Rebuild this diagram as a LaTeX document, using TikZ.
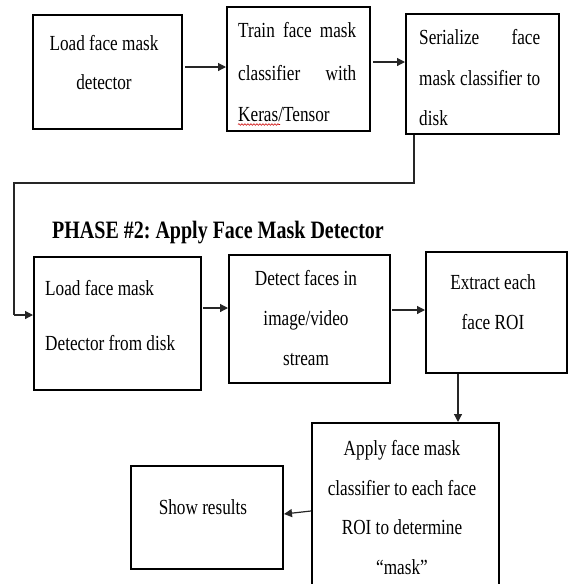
\documentclass[tikz,border=0pt]{standalone}
\usepackage{fontspec}
\setmainfont{Liberation Serif}[FakeStretch=0.8]
\usetikzlibrary{arrows.meta,decorations.pathmorphing}
\frenchspacing

\tikzset{
  box/.style={draw=black, line width=2pt, fill=none, inner sep=0pt},
  txt/.style={inner sep=0pt, font=\fontsize{21.5}{26}\selectfont},
  heading/.style={inner sep=0pt, font=\fontsize{25}{30}\selectfont\bfseries},
  link/.style={draw=black!85, line width=1.2pt, -{Triangle[length=8pt,width=8pt]}},
  plain/.style={draw=black!85, line width=1.2pt},
  squiggle/.style={draw=red!80!black, line width=0.6pt,
    decorate, decoration={snake, segment length=3pt, amplitude=0.8pt}}
}

\begin{document}
\begin{tikzpicture}[x=1pt, y=-1pt]
  \useasboundingbox (0,0) rectangle (569,584);
  \clip (0,0) rectangle (569,584);

  % ---- phase 1 boxes ----
  \node[box, minimum width=149pt, minimum height=114pt] (b1) at (107.5,72) {};
  \node[box, minimum width=143pt, minimum height=124pt] (b2) at (298.5,69) {};
  \node[box, minimum width=153pt, minimum height=120pt] (b3) at (482.5,74) {};

  \node[txt, anchor=base] (t1a) at (104,50) {Load face mask};
  \node[txt, anchor=base] (t1b) at (104,89) {detector};

  \node[txt, anchor=base west] (t2a) at (238,37) {\makebox[118pt][s]{Train face mask}};
  \node[txt, anchor=base west] (t2b) at (238,80) {\makebox[118pt][s]{classifier with}};
  \node[txt, anchor=base west] (t2c) at (238,121) {Keras/Tensor};
  \path[squiggle] (t2c.base west) ++(0,3.5) -- ++(42,0);

  \node[txt, anchor=base west] (t3a) at (419,44) {\makebox[121pt][s]{Serialize face}};
  \node[txt, anchor=base west] (t3b) at (419,85) {\makebox[121pt][s]{mask classifier to}};
  \node[txt, anchor=base west] (t3c) at (419,125) {disk};

  % ---- heading ----
  \node[heading, anchor=base west] (ttl) at (52,238) {PHASE \#2: Apply Face Mask Detector};

  % ---- phase 2 boxes ----
  \node[box, minimum width=167pt, minimum height=133pt] (b4) at (117.5,323.5) {};
  \node[box, minimum width=161pt, minimum height=128pt] (b5) at (309.5,319) {};
  \node[box, minimum width=141pt, minimum height=121pt] (b6) at (496.5,312.5) {};
  \node[box, minimum width=187pt, minimum height=165pt] (b7) at (405.5,505.5) {};
  \node[box, minimum width=152pt, minimum height=103pt] (b8) at (207,517.5) {};

  \node[txt, anchor=base west] (t4a) at (45,295) {Load face mask};
  \node[txt, anchor=base west] (t4b) at (45,350) {Detector from disk};

  \node[txt, anchor=base] (t5a) at (306,285) {Detect faces in};
  \node[txt, anchor=base] (t5b) at (306,325) {image/video};
  \node[txt, anchor=base] (t5c) at (306,365) {stream};

  \node[txt, anchor=base] (t6a) at (493,289) {Extract each};
  \node[txt, anchor=base] (t6b) at (493,329) {face ROI};

  \node[txt, anchor=base] (t7a) at (402,455) {Apply face mask};
  \node[txt, anchor=base] (t7b) at (402,495) {classifier to each face};
  \node[txt, anchor=base] (t7c) at (402,534) {ROI to determine};
  \node[txt, anchor=base] (t7d) at (402,574) {“mask”};

  \node[txt, anchor=base] (t8a) at (203,514) {Show results};

  % ---- connectors ----
  \coordinate (r1) at (0,67);
  \coordinate (r2) at (0,62);
  \draw[link] ([xshift=2pt]b1.east |- r1) -- (b2.west |- r1);
  \draw[link] ([xshift=2pt]b2.east |- r2) -- (b3.west |- r2);

  \coordinate (d1) at (414,183);
  \coordinate (d2) at (14,183);
  \coordinate (d3) at (14,315);
  \draw[plain] (b3.south -| d1) -- (d1) -- (d2) -- (d3);
  \draw[link] (d3) -- (b4.west |- d3);

  \coordinate (r4) at (0,308);
  \coordinate (r5) at (0,310);
  \draw[link] ([xshift=1pt]b4.east |- r4) -- (b5.west |- r4);
  \draw[link] ([xshift=1pt]b5.east |- r5) -- (b6.west |- r5);

  \coordinate (c6) at (458,0);
  \draw[link] (b6.south -| c6) -- (b7.north -| c6);

  \coordinate (r7) at (0,511);
  \coordinate (r8) at (0,514);
  \draw[link] (b7.west |- r7) -- (b8.east |- r8);
\end{tikzpicture}
\end{document}
